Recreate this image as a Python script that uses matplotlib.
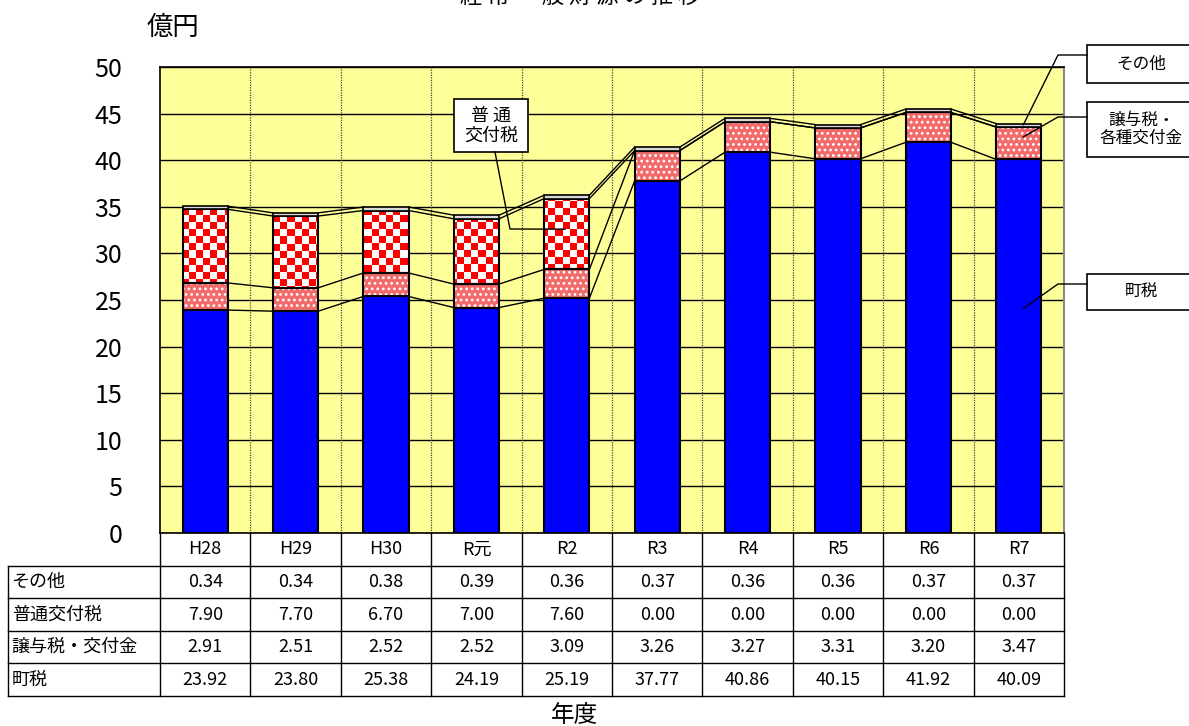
import matplotlib.pyplot as plt
import numpy as np
import matplotlib.transforms as mtransforms
from matplotlib.colors import ListedColormap
from matplotlib.lines import Line2D
from matplotlib.patches import Rectangle

plt.rcParams['font.family'] = ['Noto Sans CJK JP', 'DejaVu Sans']
plt.rcParams['hatch.linewidth'] = 1.2

# データ（億円）
years = ['H28', 'H29', 'H30', 'R元', 'R2', 'R3', 'R4', 'R5', 'R6', 'R7']
sonota = [0.34, 0.34, 0.38, 0.39, 0.36, 0.37, 0.36, 0.36, 0.37, 0.37]
futsu = [7.90, 7.70, 6.70, 7.00, 7.60, 0.00, 0.00, 0.00, 0.00, 0.00]
joyo = [2.91, 2.51, 2.52, 2.52, 3.09, 3.26, 3.27, 3.31, 3.20, 3.47]
chozei = [23.92, 23.80, 25.38, 24.19, 25.19, 37.77, 40.86, 40.15, 41.92, 40.09]
row_labels = ['その他', '普通交付税', '譲与税・交付金', '町税']
table_rows = [sonota, futsu, joyo, chozei]

W, H = 1189, 726
fig = plt.figure(figsize=(W / 100, H / 100), dpi=100)


def fx(px):
    return px / W


def fy(py):
    return 1 - py / H


ax = fig.add_axes([fx(160), fy(533), fx(1064) - fx(160), fy(67) - fy(533)])
ax.set_facecolor('#FFFF99')
x = np.arange(len(years))
w = 0.5

lvl1 = np.array(chozei)
lvl2 = lvl1 + np.array(joyo)
lvl3 = lvl2 + np.array(futsu)
lvl4 = lvl3 + np.array(sonota)

# 町税
ax.bar(x, chozei, w, color='#0000FF', edgecolor='black', lw=1.5, zorder=3)
# 譲与税・交付金（点模様）
ax.bar(x, joyo, w, bottom=lvl1, color='#F26A6A', hatch='...', edgecolor='white', lw=0, zorder=3)
ax.bar(x, joyo, w, bottom=lvl1, fill=False, edgecolor='black', lw=1.5, zorder=4)
# 普通交付税（市松模様）
b3 = ax.bar(x, futsu, w, bottom=lvl2, color='white', edgecolor='none', lw=0, zorder=3)
checker = np.add.outer(np.arange(66), np.arange(128)) % 2
for p in b3:
    if p.get_height() > 0:
        im = ax.imshow(checker, extent=(-0.5, 9.5, 0, 50), aspect='auto',
                       cmap=ListedColormap(['white', 'red']), interpolation='nearest', zorder=3.5)
        im.set_clip_path(p)
ax.bar(x, futsu, w, bottom=lvl2, fill=False, edgecolor='black', lw=1.5, zorder=4)
# その他
ax.bar(x, sonota, w, bottom=lvl3, color='#D9D9D9', edgecolor='black', lw=1.2, zorder=4)

# 区分線
for lv in [lvl1, lvl2, lvl3, lvl4]:
    for i in range(len(years) - 1):
        ax.plot([i + w / 2, i + 1 - w / 2], [lv[i], lv[i + 1]], color='black', lw=1, zorder=2.5)

ax.set_xlim(-0.5, 9.5)
ax.set_ylim(0, 50)
ax.set_yticks(range(0, 51, 5))
ax.set_xticks([])
ax.tick_params(axis='y', length=0, labelsize=18, pad=27)
ax.yaxis.grid(True, color='black', lw=1)
ax.set_axisbelow(True)
for v in np.arange(0.5, 9.5, 1):
    ax.axvline(v, color='#444444', ls=(0, (1, 1)), lw=0.9, zorder=1)
for s in ['left', 'top', 'bottom']:
    ax.spines[s].set_color('black')
    ax.spines[s].set_linewidth(1.2)
ax.spines['right'].set_color('#888888')
ax.spines['right'].set_linewidth(1.5)

# データテーブル
trans = mtransforms.blended_transform_factory(ax.transData, ax.transAxes)
rh = 32.6 / 466
xL = (8 - 160) / 90.4 - 0.5
kw = dict(transform=trans, clip_on=False, color='black', lw=1)
ax.add_line(Line2D([xL, 9.5], [-rh, -rh], **kw))
for k in range(2, 6):
    ax.add_line(Line2D([xL, 9.5], [-k * rh, -k * rh], **kw))
ax.add_line(Line2D([xL, xL], [-rh, -5 * rh], **kw))
for v in np.arange(-0.5, 10, 1):
    ax.add_line(Line2D([v, v], [0, -5 * rh], **kw))
for i, yr in enumerate(years):
    ax.text(i, -0.5 * rh, yr, transform=trans, ha='center', va='center', fontsize=13)
for r, (lab, vals) in enumerate(zip(row_labels, table_rows)):
    yc = -(r + 1.5) * rh
    ax.text(xL + 0.04, yc, lab, transform=trans, ha='left', va='center', fontsize=13)
    for i, v in enumerate(vals):
        ax.text(i, yc, f'{v:.2f}', transform=trans, ha='center', va='center', fontsize=13)

# タイトル・軸ラベル（タイトルは元図同様に上端で切れている）
fig.text(fx(580), fy(-4), '経 常 一 般 財 源 の 推 移', fontsize=16, ha='center', va='center')
fig.text(fx(147), fy(27), '億円', fontsize=19, ha='left', va='center')
fig.text(fx(575), fy(716), '年度', fontsize=17, ha='center', va='center')


# 吹き出し
def to_fig(xd, yd):
    return fig.transFigure.inverted().transform(ax.transData.transform((xd, yd)))


def callout(box, label, fs, corner_pts, target):
    x0, y0, x1, y1 = box
    fig.add_artist(Rectangle((fx(x0), fy(y1)), fx(x1) - fx(x0), fy(y0) - fy(y1),
                             transform=fig.transFigure, facecolor='white', edgecolor='black',
                             lw=1.2, zorder=5))
    fig.text(fx((x0 + x1) / 2), fy((y0 + y1) / 2), label, fontsize=fs, ha='center', va='center',
             zorder=6, linespacing=1.1)
    tx, ty = to_fig(*target)
    xs = [fx(p[0]) for p in corner_pts] + [tx]
    ys = [fy(p[1]) for p in corner_pts] + [ty]
    fig.add_artist(Line2D(xs, ys, transform=fig.transFigure, color='black', lw=1, zorder=5))


callout((1087, 45, 1196, 83), 'その他', 12, [(1087, 55), (1058, 55)], (9.05, 43.8))
callout((1087, 102, 1196, 157), '譲与税・\n各種交付金', 12, [(1087, 117), (1058, 117)], (9.05, 42.5))
callout((1087, 274, 1196, 310), '町税', 12, [(1087, 284), (1058, 284)], (9.05, 24.1))
callout((454, 99, 528, 152), '普 通\n交付税', 13, [(495, 152), (510, 229)], (3.98, 32.6))

fig.savefig('out.png', dpi=100)
